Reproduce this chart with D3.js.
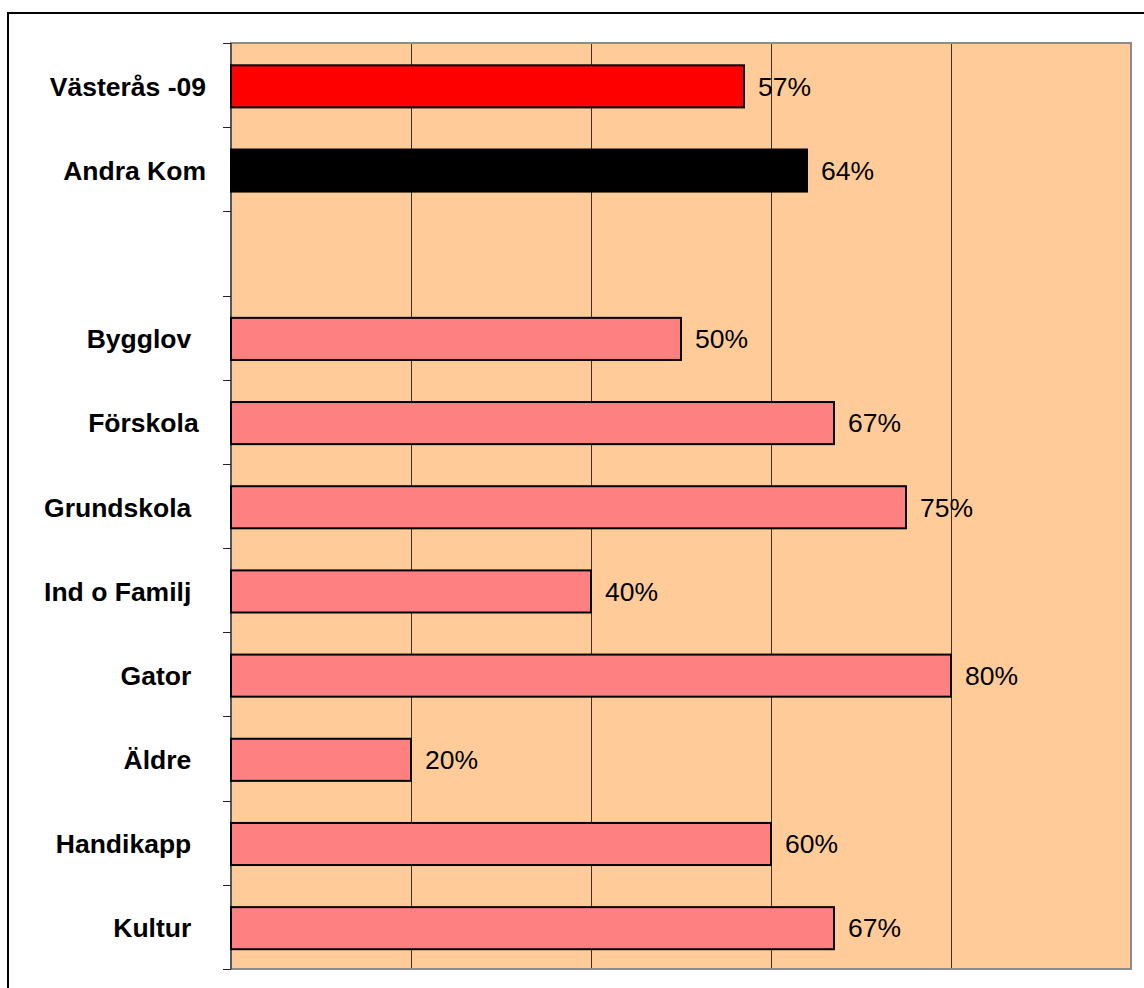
<!DOCTYPE html>
<html>
<head>
  <meta charset="utf-8">
  <title>Andel nöjda</title>
  <script src="https://cdnjs.cloudflare.com/ajax/libs/d3/7.8.5/d3.min.js"></script>
  <style>
    body { margin: 0; background: #fff; }
    text { font-family: "Liberation Sans", Arial, sans-serif; white-space: pre; }
  </style>
</head>
<body>
<script>
var width = 1144,
    height = 988;

// kategorier (tom rad mellan jämförelse och verksamheter)
var categories = ["Västerås -09", "Andra Kom", "", "Bygglov  ", "Förskola ", "Grundskola  ",
                  "Ind o Familj  ", "Gator  ", "Äldre  ", "Handikapp  ", "Kultur  "];
var values = [0.57, 0.64, null, 0.50, 0.67, 0.75, 0.40, 0.80, 0.20, 0.60, 0.67];
var groups = ["kommun", "andra", null, "verks", "verks", "verks", "verks", "verks", "verks", "verks", "verks"];
var gridTicks = [0.2, 0.4, 0.6, 0.8];

var farg = { kommun: "#ff0000", andra: "#000000", verks: "#ff8080" };

var plot = { left: 231, top: 43, right: 1131, bottom: 969 };

var svg = d3.select("body").append("svg").attr("width", width).attr("height", height);

// ram runt diagrammet
svg.append("rect")
   .attr("x", 8).attr("y", 13)
   .attr("width", 1200).attr("height", 1100)
   .attr("fill", "none").attr("stroke", "#000").attr("stroke-width", 2);

var x = d3.scaleLinear().domain([0, 1]).range([plot.left, plot.right]);
var y = d3.scaleBand().domain(d3.range(categories.length))
          .range([plot.top, plot.bottom]).paddingInner(0.5).paddingOuter(0.25).align(0.53);

svg.append("rect")
   .attr("x", plot.left).attr("y", plot.top)
   .attr("width", plot.right - plot.left).attr("height", plot.bottom - plot.top)
   .attr("fill", "#ffcc99");

svg.selectAll("line.grid").data(gridTicks).enter().append("line")
   .attr("class", "grid")
   .attr("x1", function(d) { return Math.round(x(d)) + 0.5; })
   .attr("x2", function(d) { return Math.round(x(d)) + 0.5; })
   .attr("y1", plot.top).attr("y2", plot.bottom)
   .attr("stroke", "#3c3226").attr("stroke-width", 1);

// ram runt plotytan
svg.append("rect")
   .attr("x", plot.left).attr("y", plot.top)
   .attr("width", plot.right - plot.left).attr("height", plot.bottom - plot.top)
   .attr("fill", "none").attr("stroke", "#8c8c8c").attr("stroke-width", 2);

// y-axel med streck vid gränserna
var step = (plot.bottom - plot.top) / categories.length;
var bounds = d3.range(categories.length + 1).map(function(i) { return plot.top + i * step; });
svg.append("line")
   .attr("x1", plot.left).attr("x2", plot.left)
   .attr("y1", plot.top).attr("y2", plot.bottom)
   .attr("stroke", "#555").attr("stroke-width", 2);
svg.selectAll("line.tick").data(bounds).enter().append("line")
   .attr("class", "tick")
   .attr("x1", plot.left - 8).attr("x2", plot.left)
   .attr("y1", function(d) { return Math.round(d) + 0.5; })
   .attr("y2", function(d) { return Math.round(d) + 0.5; })
   .attr("stroke", "#222").attr("stroke-width", 1);

var rows = d3.range(categories.length);

svg.selectAll("text.cat").data(rows).enter().append("text")
   .attr("class", "cat")
   .attr("x", 206)
   .attr("y", function(i) { return y(i) + y.bandwidth() / 2; })
   .attr("dy", "0.35em")
   .attr("text-anchor", "end")
   .attr("font-size", "26.5px").attr("font-weight", "bold")
   .text(function(i) { return categories[i]; });

var withVal = rows.filter(function(i) { return values[i] != null; });

svg.selectAll("rect.bar").data(withVal).enter().append("rect")
   .attr("class", "bar")
   .attr("x", x(0))
   .attr("y", function(i) { return y(i); })
   .attr("width", function(i) { return x(values[i]) - x(0); })
   .attr("height", y.bandwidth())
   .attr("fill", function(i) { return farg[groups[i]]; })
   .attr("stroke", "#000").attr("stroke-width", 2);

svg.selectAll("text.val").data(withVal).enter().append("text")
   .attr("class", "val")
   .attr("x", function(i) { return x(values[i]) + 14; })
   .attr("y", function(i) { return y(i) + y.bandwidth() / 2; })
   .attr("dy", "0.35em")
   .attr("font-size", "26.5px")
   .text(function(i) { return d3.format(".0%")(values[i]); });
</script>
</body>
</html>
